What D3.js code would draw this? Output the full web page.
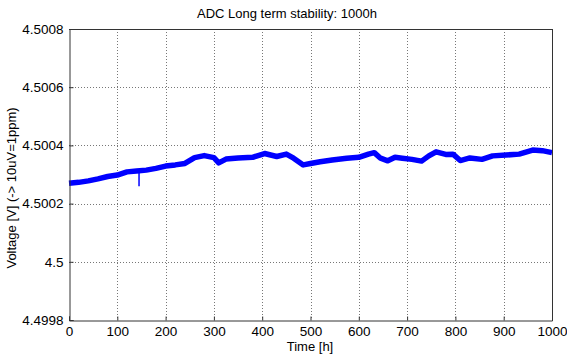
<!DOCTYPE html>
<html>
<head>
<meta charset="utf-8">
<script src="https://cdn.jsdelivr.net/npm/d3@7"></script>
<style>
  body { margin: 0; background: #fff; }
  svg text { font-family: Arial, "Liberation Sans", sans-serif; fill: #000; }
</style>
</head>
<body>
<svg width="567" height="358"></svg>
<script>
// hours and voltage (centre of the noisy band)
var hours = [0, 20, 40, 60, 80, 100, 120, 140, 160, 180, 200, 220, 240, 260, 280, 300, 310, 325,
    350, 380, 405, 430, 450, 465, 485, 500, 520, 545, 575, 600, 620, 632, 645, 660, 675, 690, 710, 730,
    745, 760, 780, 795, 810, 830, 855, 877, 905, 932, 960, 980, 1000]
var volts = [4.50027, 4.500273, 4.500278, 4.500285, 4.500293, 4.500298, 4.500309, 4.500312,
    4.500315, 4.500321, 4.500329, 4.500333, 4.500338, 4.500358, 4.500365, 4.500358, 4.50034, 4.500353,
    4.500357, 4.500359, 4.500372, 4.500362, 4.50037, 4.500356, 4.500333, 4.500338, 4.500344, 4.50035,
    4.500356, 4.500359, 4.50037, 4.500375, 4.500356, 4.500347, 4.500359, 4.500356, 4.500352, 4.500346,
    4.500364, 4.500378, 4.500369, 4.50037, 4.500348, 4.500357, 4.500352, 4.500364, 4.500367, 4.50037,
    4.500384, 4.500382, 4.500375]

// single downward glitch
var spikeHours = [145]
var spikeTops = [4.500312]
var spikeLows = [4.50026]

var xTicks = [0, 100, 200, 300, 400, 500, 600, 700, 800, 900, 1000]
var yTicks = [4.4998, 4.5, 4.5002, 4.5004, 4.5006, 4.5008]
var yTickLabels = ['4.4998', '4.5', '4.5002', '4.5004', '4.5006', '4.5008']

var svg = d3.select('svg')
var pLeft = 69, pRight = 552, pTop = 29, pBottom = 320

var x = d3.scaleLinear().domain([0, 1000]).range([pLeft, pRight])
var y = d3.scaleLinear().domain([4.4998, 4.5008]).range([pBottom, pTop])

// dotted grid
svg.selectAll('.vgrid')
    .data(xTicks.slice(1, -1))
    .enter()
    .append('line')
    .attr('x1', function(d){ return Math.round(x(d)) + 0.5 })
    .attr('x2', function(d){ return Math.round(x(d)) + 0.5 })
    .attr('y1', pTop)
    .attr('y2', pBottom)
    .style('stroke', '#777')
    .style('stroke-dasharray', '1,2')

svg.selectAll('.hgrid')
    .data(yTicks.slice(1, -1))
    .enter()
    .append('line')
    .attr('y1', function(d){ return Math.round(y(d)) + 0.5 })
    .attr('y2', function(d){ return Math.round(y(d)) + 0.5 })
    .attr('x1', pLeft)
    .attr('x2', pRight)
    .style('stroke', '#777')
    .style('stroke-dasharray', '1,2')

// the measurement
var line = d3.line()
    .x(function(d, i){ return x(hours[i]) })
    .y(function(d){ return y(d) })

svg.append('path')
    .datum(volts)
    .attr('d', line)
    .style('fill', 'none')
    .style('stroke', '#0000ff')
    .style('stroke-width', 5.5)
    .style('stroke-linejoin', 'round')

svg.selectAll('.spike')
    .data(spikeHours)
    .enter()
    .append('line')
    .attr('x1', function(d){ return x(d) })
    .attr('x2', function(d){ return x(d) })
    .attr('y1', function(d, i){ return y(spikeTops[i]) })
    .attr('y2', function(d, i){ return y(spikeLows[i]) })
    .style('stroke', '#0000ff')
    .style('stroke-width', 1.5)

// axes
svg.append('g')
    .attr('transform', 'translate(0,' + (pBottom + 0.5) + ')')
    .call(d3.axisBottom(x).tickValues(xTicks).tickSize(-4).tickPadding(6).tickFormat(d3.format('d')))

svg.append('g')
    .attr('transform', 'translate(' + (pLeft + 0.5) + ',0)')
    .call(d3.axisLeft(y).tickValues(yTicks).tickSize(-4).tickPadding(6)
        .tickFormat(function(d, i){ return yTickLabels[i] }))

svg.selectAll('.domain').style('stroke', '#333')
svg.selectAll('.tick line').style('stroke', '#333')
svg.selectAll('.tick text')
    .style('font-size', '13.5px')
    .style('font-family', 'Arial, "Liberation Sans", sans-serif')
    .style('fill', '#000')

// top and right edges of the box
svg.append('line').attr('x1', pLeft).attr('x2', pRight + 0.5).attr('y1', pTop + 0.5).attr('y2', pTop + 0.5).style('stroke', '#333')
svg.append('line').attr('x1', pRight + 0.5).attr('x2', pRight + 0.5).attr('y1', pTop).attr('y2', pBottom + 0.5).style('stroke', '#333')

// texts
svg.append('text')
    .attr('x', 287)
    .attr('y', 18)
    .attr('text-anchor', 'middle')
    .style('font-size', '13px')
    .text('ADC Long term stability: 1000h')

svg.append('text')
    .attr('x', 310)
    .attr('y', 351)
    .attr('text-anchor', 'middle')
    .style('font-size', '13px')
    .text('Time [h]')

svg.append('text')
    .attr('transform', 'translate(16,188) rotate(-90)')
    .attr('text-anchor', 'middle')
    .style('font-size', '13px')
    .text('Voltage [V] (-> 10uV=1ppm)')
</script>
</body>
</html>
